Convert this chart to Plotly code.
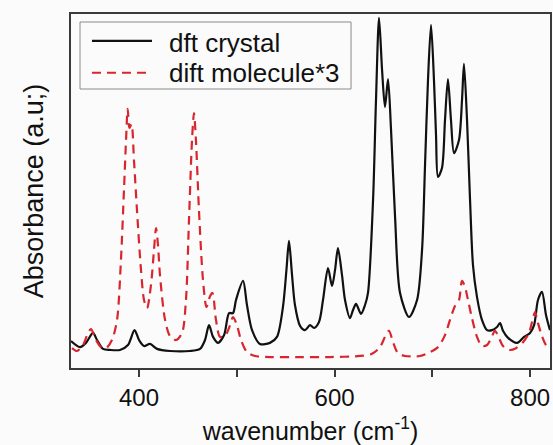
import plotly.graph_objects as go

# dft crystal (wavenumber cm-1, absorbance a.u.)
crystal_x = [330.4, 339.6, 345.7, 352.9, 357.0, 363.1, 370.3, 380.5, 388.7, 395.4,
             400.0, 405.1, 411.2, 418.4, 431.7, 452.1, 462.4, 467.5, 471.6, 475.7,
             480.8, 487.0, 492.1, 496.1, 499.2, 506.4, 510.4, 515.6, 523.7, 533.9,
             541.1, 547.2, 550.8, 553.4, 556.5, 559.5, 564.7, 569.8, 574.9, 579.0,
             584.1, 588.2, 593.3, 597.4, 600.5, 603.5, 607.6, 610.7, 615.8, 618.9,
             622.0, 627.1, 631.2, 634.2, 639.4, 642.4, 645.5, 648.6, 651.6, 654.7,
             657.8, 661.9, 667.0, 676.2, 684.4, 689.5, 692.5, 695.6, 698.7, 701.7,
             703.8, 705.8, 709.9, 713.0, 716.0, 719.1, 722.2, 727.3, 730.4, 732.4,
             735.5, 738.6, 741.6, 745.7, 750.8, 756.0, 761.1, 766.2, 769.3, 772.3,
             777.5, 786.7, 793.8, 800.0, 804.1, 808.1, 812.2, 816.3, 820.4]
crystal_y = [7.6, 5.9, 7.1, 9.9, 7.9, 5.4, 5.1, 5.1, 6.5, 10.7,
             7.9, 6.2, 6.8, 5.4, 4.8, 4.8, 5.4, 7.9, 12.1, 8.8,
             7.1, 9.3, 15.5, 15.5, 19.2, 24.6, 17.8, 10.7, 6.8, 7.1,
             8.8, 17.2, 27.7, 35.9, 26.3, 17.8, 11.9, 10.7, 12.1, 11.3,
             13.0, 19.2, 28.2, 23.2, 27.7, 33.9, 26.3, 19.2, 14.1, 16.4,
             18.1, 15.3, 17.8, 21.2, 47.5, 75.7, 98.9, 84.2, 73.7, 81.6,
             67.2, 42.7, 21.2, 14.4, 19.2, 33.3, 56.8, 81.4, 96.9, 81.4,
             65.8, 54.0, 56.5, 70.1, 81.6, 70.1, 60.7, 64.4, 75.7, 85.9,
             70.1, 47.5, 29.1, 20.1, 13.6, 10.7, 10.7, 11.6, 12.7, 10.5,
             8.5, 7.1, 8.8, 9.9, 12.1, 19.2, 21.5, 15.0, 10.7]

# dft molecule x3
molecule_x = [331.4, 336.5, 342.7, 347.8, 350.9, 356.0, 361.1, 366.2, 372.3, 377.5,
              381.5, 384.6, 386.7, 388.4, 390.2, 392.3, 394.8, 397.9, 402.0, 405.1,
              408.2, 412.2, 415.3, 417.4, 419.4, 421.4, 426.6, 431.7, 437.8, 444.0,
              448.0, 451.1, 454.2, 456.2, 458.2, 461.3, 465.4, 469.0, 472.6, 475.1,
              478.7, 482.8, 487.9, 493.1, 496.1, 500.2, 504.3, 510.4, 518.6, 534.0,
              564.7, 595.4, 626.0, 638.3, 646.5, 651.6, 655.7, 659.8, 664.9, 672.1,
              687.4, 697.7, 705.8, 713.0, 718.1, 723.2, 727.3, 730.4, 733.5, 736.5,
              740.6, 745.7, 750.8, 756.0, 761.1, 764.1, 768.2, 772.3, 778.5, 785.6,
              792.8, 798.9, 803.0, 805.1, 808.1, 812.2, 816.3, 820.4]
molecule_y = [5.6, 4.8, 6.5, 9.9, 11.0, 7.9, 5.9, 5.6, 7.9, 13.6,
              30.5, 50.3, 64.4, 73.2, 67.8, 68.9, 58.8, 44.6, 27.7, 19.2,
              16.9, 23.4, 33.3, 39.5, 34.7, 26.3, 13.6, 9.0, 7.9, 9.9,
              19.2, 41.8, 64.4, 72.0, 64.4, 44.6, 24.9, 17.2, 20.3, 21.2,
              13.6, 8.8, 9.0, 12.1, 14.4, 12.1, 7.9, 4.5, 3.4, 3.1,
              3.1, 3.1, 3.4, 4.0, 5.9, 8.8, 10.5, 7.3, 4.2, 3.4,
              3.4, 4.5, 5.9, 9.3, 13.6, 17.5, 19.2, 24.6, 22.9, 19.2,
              14.1, 8.8, 6.2, 6.5, 9.0, 10.5, 8.5, 6.2, 5.1, 5.6,
              7.3, 9.9, 14.1, 15.8, 12.7, 9.0, 6.5, 5.6]

x_ticks = [400, 600, 800]
x_tick_labels = ["400", "600", "800"]
series_names = ["dft crystal", "dift molecule*3"]

FONT = "Liberation Sans, Arial, sans-serif"
AX = "#3a3a3a"
BG = "#fbfbfb"
BLACK = "#111111"
RED = "#d9262e"
RED_DASH = "9px,6px"
LW = 2.2

fig = go.Figure()
fig.add_trace(go.Scatter(x=crystal_x, y=crystal_y, mode="lines", name=series_names[0],
                         line=dict(color=BLACK, width=LW, shape="spline", smoothing=0.8)))
fig.add_trace(go.Scatter(x=molecule_x, y=molecule_y, mode="lines", name=series_names[1],
                         line=dict(color=RED, width=LW, dash=RED_DASH,
                                   shape="spline", smoothing=0.8)))

# legend box drawn in paper coordinates
shapes = [
    dict(type="rect", xref="paper", yref="paper", x0=0.0188, x1=0.5846, y0=0.7881, y1=0.9774,
         line=dict(color="#8a8a8a", width=1), fillcolor=BG, layer="above"),
    dict(type="line", xref="paper", yref="paper", x0=0.0438, x1=0.1691, y0=0.924, y1=0.924,
         line=dict(color=BLACK, width=LW), layer="above"),
    dict(type="line", xref="paper", yref="paper", x0=0.0438, x1=0.1691, y0=0.834, y1=0.834,
         line=dict(color=RED, width=LW, dash=RED_DASH), layer="above"),
]
annotations = [
    dict(text=series_names[0], xref="paper", yref="paper", x=0.2004, y=0.918,
         xanchor="left", yanchor="middle", showarrow=False,
         font=dict(size=26, family=FONT, color=BLACK)),
    dict(text=series_names[1], xref="paper", yref="paper", x=0.2004, y=0.834,
         xanchor="left", yanchor="middle", showarrow=False,
         font=dict(size=26, family=FONT, color=BLACK)),
]

fig.update_layout(
    width=553, height=445,
    margin=dict(l=71, r=3, t=14, b=77, autoexpand=False),
    paper_bgcolor=BG, plot_bgcolor=BG,
    font=dict(family=FONT, color=BLACK),
    showlegend=False,
    shapes=shapes,
    annotations=annotations,
    xaxis=dict(range=[330.4, 820.4], tickvals=x_ticks, ticktext=x_tick_labels,
               automargin=False,
               ticks="outside", ticklen=7, tickwidth=1.5, tickcolor=AX,
               minor=dict(tickvals=[500, 700], ticks="outside", ticklen=7,
                          tickwidth=1.5, tickcolor=AX),
               showline=True, linecolor=AX, linewidth=2, mirror=True,
               showgrid=False, zeroline=False,
               tickfont=dict(size=24, family=FONT, color=BLACK),
               title=dict(text="wavenumber (cm<sup>-1</sup>)",
                          font=dict(size=25, family=FONT, color=BLACK), standoff=15)),
    yaxis=dict(range=[0, 100], showticklabels=False, ticks="",
               automargin=False,
               showline=True, linecolor=AX, linewidth=2, mirror=True,
               showgrid=False, zeroline=False,
               title=dict(text="Absorbance (a.u;)",
                          font=dict(size=27, family=FONT, color=BLACK), standoff=18)),
)

fig.write_html("out.html", config={"displayModeBar": False},
               post_script="document.body.style.margin='0';")
